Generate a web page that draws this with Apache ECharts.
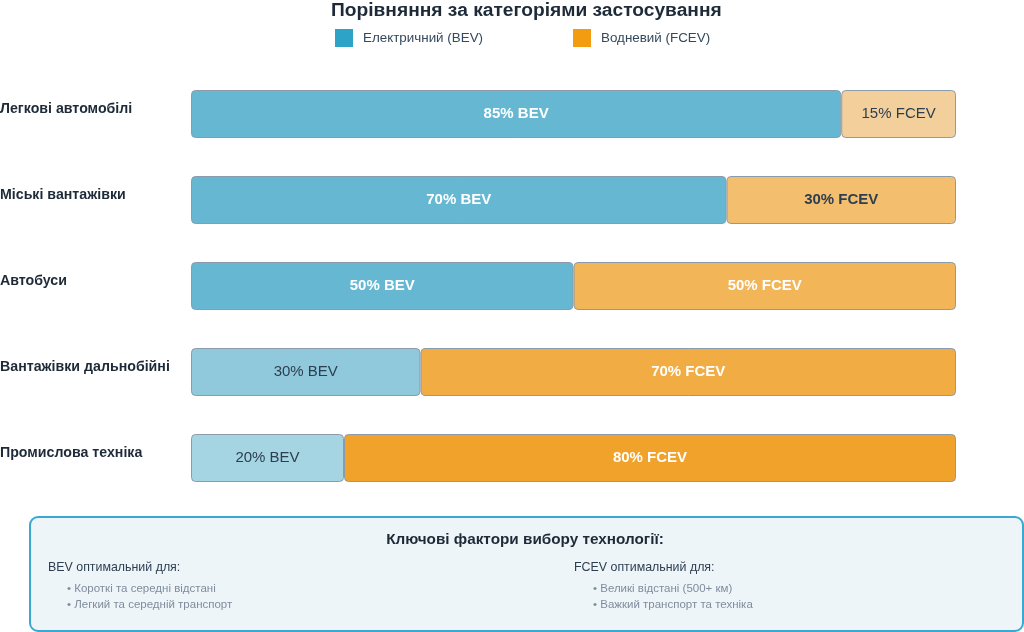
<!DOCTYPE html>
<html><head><meta charset="utf-8">
<script src="https://cdn.jsdelivr.net/npm/echarts@6/dist/echarts.min.js"></script>
<style>html,body{margin:0;padding:0;background:#fff}#c{width:1024px;height:632px}</style>
</head><body><div id="c"></div>
<script>
const categories = ['Легкові автомобілі','Міські вантажівки','Автобуси','Вантажівки дальнобійні','Промислова техніка'];
const bevValues = [85, 70, 50, 30, 20];
const fcevValues = [15, 30, 50, 70, 80];
const seriesNames = ['Електричний (BEV)', 'Водневий (FCEV)'];
const bevColors = ['#66b8d2','#66b8d2','#66b8d2','#90c9db','#a5d4e2'];
const fcevColors = ['#f3d09b','#f3bf6e','#f2b557','#f1ad44','#f0a22a'];
const bevLabelStyle = ['light','light','light','dark','dark'];
const fcevLabelStyle = ['dark','darkbold','light','light','light'];
const bevPoints = ['Короткі та середні відстані','Легкий та середній транспорт'];
const fcevPoints = ['Великі відстані (500+ км)','Важкий транспорт та техніка'];

const FONT = 'Liberation Sans, Arial, sans-serif';
function lbl(kind){
  if(kind==='light') return {color:'#ffffff', fontWeight:'bold'};
  if(kind==='darkbold') return {color:'#2c3e50', fontWeight:'bold'};
  return {color:'#2c3e50', fontWeight:'normal'};
}
function mk(vals, cols, kinds){
  return vals.map((v,i)=>({value:v, itemStyle:{color:cols[i]}, label:lbl(kinds[i])}));
}
const chart = echarts.init(document.getElementById('c'));
chart.setOption({
  animation:false,
  textStyle:{fontFamily:FONT},
  title:{text:'Порівняння за категоріями застосування', left:326, top:-4,
    textStyle:{fontSize:19.2, fontWeight:'bold', color:'#1e2a38', fontFamily:FONT}},
  legend:[
    {data:[seriesNames[0]], left:330, top:24, itemWidth:18, itemHeight:18, itemGap:10,
      itemStyle:{borderWidth:0},
      textStyle:{fontSize:13.4, color:'#34495e', fontFamily:FONT, padding:[0,0,0,5]}, icon:'rect'},
    {data:[seriesNames[1]], left:568, top:24, itemWidth:18, itemHeight:18,
      itemStyle:{borderWidth:0},
      textStyle:{fontSize:13.4, color:'#34495e', fontFamily:FONT, padding:[0,0,0,5]}, icon:'rect'}
  ],
  grid:{left:191, right:68, top:71, bottom:131, outerBoundsMode:'none', containLabel:false},
  xAxis:{type:'value', min:0, max:100, show:false},
  yAxis:{type:'category', data:categories, inverse:true,
    axisLine:{show:false}, axisTick:{show:false},
    axisLabel:{align:'left', margin:191, verticalAlign:'bottom', lineHeight:10,
      fontSize:14.2, fontWeight:'bold', color:'#1e2a38', fontFamily:FONT}},
  series:[
    {name:seriesNames[0], type:'bar', stack:'a', barWidth:48, color:'#2ea3c8',
      itemStyle:{borderRadius:4, borderColor:'#8c9bab', borderWidth:1},
      label:{show:true, position:'inside', fontSize:15, formatter:p=>p.value+'% BEV', fontFamily:FONT},
      data:mk(bevValues,bevColors,bevLabelStyle)},
    {name:seriesNames[1], type:'bar', stack:'a', barWidth:48, color:'#f39c12',
      itemStyle:{borderRadius:4, borderColor:'#8c9bab', borderWidth:1},
      label:{show:true, position:'inside', fontSize:15, formatter:p=>p.value+'% FCEV', fontFamily:FONT},
      data:mk(fcevValues,fcevColors,fcevLabelStyle)}
  ],
  graphic:[
    {type:'rect', left:29, top:516, shape:{width:993, height:114, r:8},
      style:{fill:'#eef5f9', stroke:'#3aa8d0', lineWidth:2}},
    {type:'text', x:525, y:540, style:{text:'Ключові фактори вибору технології:', fill:'#1e2a38',
      font:'bold 15.3px '+FONT, align:'center', verticalAlign:'middle'}},
    {type:'text', x:48, y:568, style:{text:'BEV оптимальний для:', fill:'#2c3e50', font:'12.4px '+FONT, verticalAlign:'middle'}},
    {type:'text', x:67, y:589, style:{text:'• '+bevPoints[0], fill:'#7f8c9d', font:'11.5px '+FONT, verticalAlign:'middle'}},
    {type:'text', x:67, y:605, style:{text:'• '+bevPoints[1], fill:'#7f8c9d', font:'11.5px '+FONT, verticalAlign:'middle'}},
    {type:'text', x:574, y:568, style:{text:'FCEV оптимальний для:', fill:'#2c3e50', font:'12.4px '+FONT, verticalAlign:'middle'}},
    {type:'text', x:593, y:589, style:{text:'• '+fcevPoints[0], fill:'#7f8c9d', font:'11.5px '+FONT, verticalAlign:'middle'}},
    {type:'text', x:593, y:605, style:{text:'• '+fcevPoints[1], fill:'#7f8c9d', font:'11.5px '+FONT, verticalAlign:'middle'}}
  ]
});
</script></body></html>
